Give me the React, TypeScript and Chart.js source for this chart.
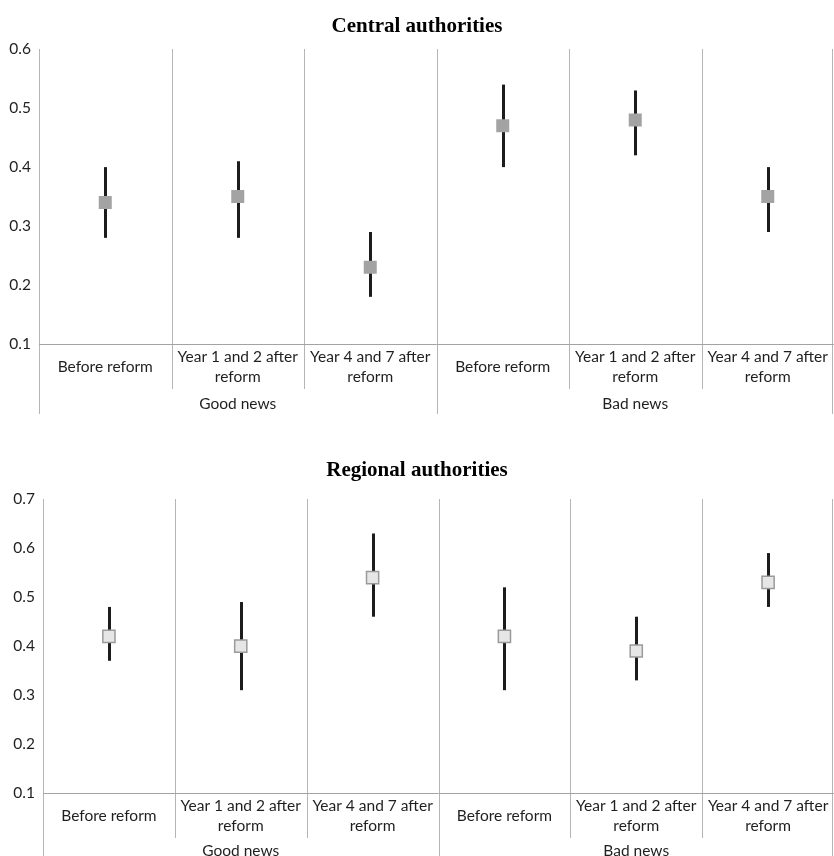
import React, { useEffect, useRef } from "react";
import { Chart, registerables } from "chart.js";

Chart.register(...registerables);

// ---- data ----
const categories: string[][] = [
  ["Before reform"],
  ["Year 1 and 2 after", "reform"],
  ["Year 4 and 7 after", "reform"],
  ["Before reform"],
  ["Year 1 and 2 after", "reform"],
  ["Year 4 and 7 after", "reform"],
];
const groups = ["Good news", "Bad news"];

const centralTitle = "Central authorities";
const centralMean = [0.34, 0.35, 0.23, 0.47, 0.48, 0.35];
const centralLow = [0.28, 0.28, 0.18, 0.4, 0.42, 0.29];
const centralHigh = [0.4, 0.41, 0.29, 0.54, 0.53, 0.4];
const centralRange = [0.1, 0.6];

const regionalTitle = "Regional authorities";
const regionalMean = [0.42, 0.4, 0.54, 0.42, 0.39, 0.53];
const regionalLow = [0.37, 0.31, 0.46, 0.31, 0.33, 0.48];
const regionalHigh = [0.48, 0.49, 0.63, 0.52, 0.46, 0.59];
const regionalRange = [0.1, 0.7];

const tickFont = { family: "Lato, 'Open Sans', sans-serif", size: 15.5 };
const tickColor = "#1f1f1f";

const decorPlugin = {
  id: "decor",
  beforeDatasetsDraw(chart: any, _args: any, opts: any) {
    const { ctx, scales } = chart;
    const x = scales.x;
    const y = scales.y;
    const n = opts.labels.length;
    const bottom = Math.round(y.getPixelForValue(opts.yMin));
    const top = Math.round(y.getPixelForValue(opts.yMax));
    ctx.save();
    // separators
    ctx.strokeStyle = "#b5b5b5";
    ctx.lineWidth = 1;
    for (let i = 0; i <= n; i++) {
      let bx = Math.round(x.getPixelForValue(i - 0.5)) + 0.5;
      if (i === n) bx = Math.min(bx, chart.width - 1.5);
      const isGroup = i % opts.groupSize === 0;
      const end = isGroup ? bottom + opts.groupLen : bottom + opts.innerLen;
      ctx.beginPath();
      ctx.moveTo(bx, top);
      ctx.lineTo(bx, end);
      ctx.stroke();
    }
    // axis line
    ctx.strokeStyle = "#a3a3a3";
    ctx.beginPath();
    ctx.moveTo(x.left, bottom + 0.5);
    ctx.lineTo(x.right, bottom + 0.5);
    ctx.stroke();
    // error bars
    ctx.strokeStyle = "#1c1c1c";
    ctx.lineWidth = 3;
    for (let i = 0; i < n; i++) {
      const px = Math.round(x.getPixelForValue(i)) + 0.5;
      ctx.beginPath();
      ctx.moveTo(px, y.getPixelForValue(opts.low[i]));
      ctx.lineTo(px, y.getPixelForValue(opts.high[i]));
      ctx.stroke();
    }
    // group labels
    ctx.fillStyle = tickColor;
    ctx.font = `${tickFont.size}px ${tickFont.family}`;
    ctx.textAlign = "center";
    ctx.textBaseline = "middle";
    opts.groups.forEach((g: string, gi: number) => {
      const a = x.getPixelForValue(gi * opts.groupSize - 0.5);
      const b = x.getPixelForValue((gi + 1) * opts.groupSize - 0.5);
      ctx.fillText(g, (a + b) / 2, bottom + opts.groupLabelOffset);
    });
    ctx.restore();
  },
};

type PanelProps = {
  title: string;
  mean: number[];
  low: number[];
  high: number[];
  range: number[];
  height: number;
  yWidth: number;
  xHeight: number;
  titlePad: { top: number; bottom: number };
  fill: string;
  border: string;
  borderWidth: number;
  radius: number;
  groupLen: number;
  groupLabelOffset: number;
};

function Panel(p: PanelProps) {
  const ref = useRef<HTMLCanvasElement>(null);
  useEffect(() => {
    if (!ref.current) return;
    const chart = new Chart(ref.current, {
      type: "line",
      data: {
        labels: categories as any,
        datasets: [
          {
            data: p.mean,
            showLine: false,
            pointStyle: "rect",
            pointRadius: p.radius,
            pointHoverRadius: p.radius,
            pointBackgroundColor: p.fill,
            pointBorderColor: p.border,
            pointBorderWidth: p.borderWidth,
          },
        ],
      },
      options: {
        animation: false,
        responsive: false,
        maintainAspectRatio: false,
        layout: { padding: 0, autoPadding: false },
        plugins: {
          legend: { display: false },
          tooltip: { enabled: false },
          title: {
            display: true,
            text: p.title,
            color: "#000",
            font: { family: "'Liberation Serif', 'Times New Roman', serif", size: 21, weight: "bold" },
            padding: p.titlePad,
          },
          decor: {
            labels: categories,
            groups,
            groupSize: 3,
            low: p.low,
            high: p.high,
            yMin: p.range[0],
            yMax: p.range[1],
            innerLen: 45,
            groupLen: p.groupLen,
            groupLabelOffset: p.groupLabelOffset,
          },
        } as any,
        scales: {
          x: {
            type: "category",
            offset: true,
            grid: { display: false, drawTicks: true, tickLength: 13 },
            border: { display: false },
            ticks: {
              padding: 0,
              autoSkip: false,
              maxRotation: 0,
              minRotation: 0,
              crossAlign: "center",
              font: { ...tickFont, lineHeight: 1.3 },
              color: tickColor,
            },
            afterFit: (s: any) => {
              s.height = p.xHeight;
              s.paddingLeft = 0;
              s.paddingRight = 0;
            },
          },
          y: {
            min: p.range[0],
            max: p.range[1],
            grid: { display: false, drawTicks: false, tickLength: 0 },
            border: { display: false },
            ticks: {
              stepSize: 0.1,
              padding: 8,
              font: tickFont,
              color: tickColor,
              callback: (v: any) => Number(v).toFixed(1),
            },
            afterFit: (s: any) => {
              s.width = p.yWidth;
              s.paddingTop = 0;
              s.paddingBottom = 0;
            },
          },
        },
      } as any,
      plugins: [decorPlugin],
    });
    return () => chart.destroy();
  }, []);
  return <canvas ref={ref} width={834} height={p.height} style={{ display: "block" }} />;
}

export default function App() {
  return (
    <div style={{ position: "absolute", left: 0, top: 0, width: 834, height: 856, background: "#fff" }}>
      <Panel
        title={centralTitle}
        mean={centralMean}
        low={centralLow}
        high={centralHigh}
        range={centralRange}
        height={420}
        yWidth={39}
        xHeight={76}
        titlePad={{ top: 14, bottom: 10 }}
        fill="#a3a3a3"
        border="#a3a3a3"
        borderWidth={0}
        radius={9.2}
        groupLen={70}
        groupLabelOffset={60}
      />
      <Panel
        title={regionalTitle}
        mean={regionalMean}
        low={regionalLow}
        high={regionalHigh}
        range={regionalRange}
        height={436}
        yWidth={43}
        xHeight={63}
        titlePad={{ top: 38, bottom: 16 }}
        fill="#e6e6e6"
        border="#9a9a9a"
        borderWidth={1.5}
        radius={8.6}
        groupLen={80}
        groupLabelOffset={58}
      />
    </div>
  );
}
